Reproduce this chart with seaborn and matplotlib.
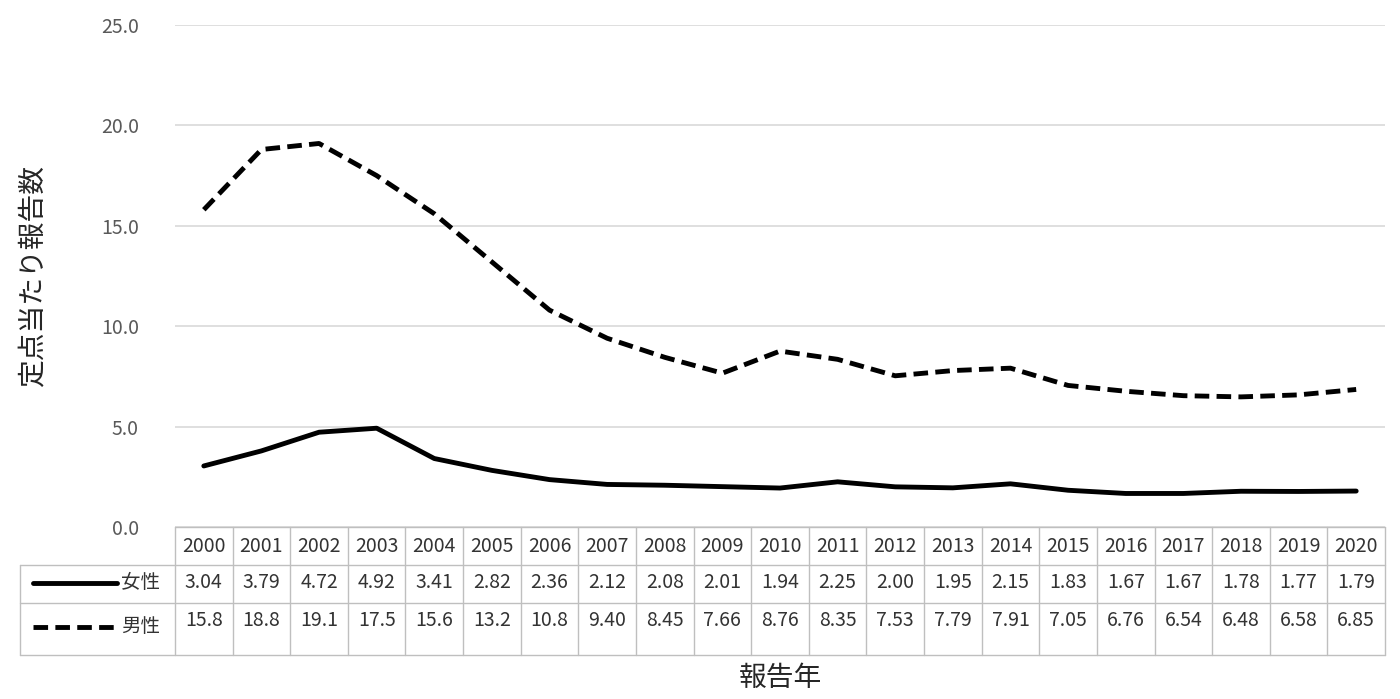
import matplotlib
matplotlib.use("Agg")
import matplotlib.pyplot as plt
from matplotlib.lines import Line2D
import seaborn as sns
import pandas as pd

years = list(range(2000, 2021))
female = [3.04, 3.79, 4.72, 4.92, 3.41, 2.82, 2.36, 2.12, 2.08, 2.01, 1.94,
          2.25, 2.00, 1.95, 2.15, 1.83, 1.67, 1.67, 1.78, 1.77, 1.79]
male = [15.8, 18.8, 19.1, 17.5, 15.6, 13.2, 10.8, 9.40, 8.45, 7.66, 8.76,
        8.35, 7.53, 7.79, 7.91, 7.05, 6.76, 6.54, 6.48, 6.58, 6.85]
female_txt = ["3.04", "3.79", "4.72", "4.92", "3.41", "2.82", "2.36", "2.12", "2.08", "2.01", "1.94",
              "2.25", "2.00", "1.95", "2.15", "1.83", "1.67", "1.67", "1.78", "1.77", "1.79"]
male_txt = ["15.8", "18.8", "19.1", "17.5", "15.6", "13.2", "10.8", "9.40", "8.45", "7.66", "8.76",
            "8.35", "7.53", "7.79", "7.91", "7.05", "6.76", "6.54", "6.48", "6.58", "6.85"]

sns.set_style("white")
plt.rcParams['font.family'] = ['Noto Sans CJK JP', 'DejaVu Sans']

W, H = 1400, 699
fig = plt.figure(figsize=(14, 6.99), dpi=100)
L, R, T, B = 175, 1385, 25, 527
ax = fig.add_axes([L / W, (H - B) / H, (R - L) / W, (B - T) / H])

df = pd.DataFrame({"x": range(len(years)), "女性": female, "男性": male})
sns.lineplot(data=df, x="x", y="女性", ax=ax, color="black", lw=3.5)
sns.lineplot(data=df, x="x", y="男性", ax=ax, color="black", lw=3.5, linestyle=(0, (3, 1.5)))

ax.set_xlim(-0.5, len(years) - 0.5)
ax.set_ylim(0, 25)
ax.set_yticks([0, 5, 10, 15, 20, 25])
ax.set_yticklabels([f"{v:.1f}" for v in [0, 5, 10, 15, 20, 25]], fontsize=14, color="#595959")
ax.tick_params(axis='y', length=0, pad=26)
ax.set_xticks([])
ax.set_xlabel("")
ax.set_ylabel("定点当たり報告数", fontsize=20)
ax.yaxis.set_label_coords(-0.105, 0.5)
ax.grid(axis='y', color="#d9d9d9", lw=1.2)
for s in ax.spines.values():
    s.set_visible(False)


def fx(px):
    return px / W


def fy(py):
    return 1 - py / H


gc = "#bfbfbf"
tc = "#333333"
rows = [527, 565, 603, 655]
colw = (R - L) / len(years)
fig.add_artist(Line2D([fx(L), fx(R)], [fy(rows[0])] * 2, color=gc, lw=1))
for r in rows[1:]:
    fig.add_artist(Line2D([fx(20), fx(R)], [fy(r)] * 2, color=gc, lw=1))
for i in range(len(years) + 1):
    x = L + i * colw
    fig.add_artist(Line2D([fx(x)] * 2, [fy(rows[0]), fy(rows[3])], color=gc, lw=1))
fig.add_artist(Line2D([fx(20)] * 2, [fy(rows[1]), fy(rows[3])], color=gc, lw=1))

for i, y in enumerate(years):
    cx = fx(L + (i + 0.5) * colw)
    fig.text(cx, fy(547), str(y), ha='center', va='center', fontsize=14, color=tc)
    fig.text(cx, fy(583), female_txt[i], ha='center', va='center', fontsize=14, color=tc)
    fig.text(cx, fy(621), male_txt[i], ha='center', va='center', fontsize=14, color=tc)

fig.add_artist(Line2D([fx(33), fx(117)], [fy(583)] * 2, color="black", lw=3.5))
fig.add_artist(Line2D([fx(33), fx(117)], [fy(627)] * 2, color="black", lw=3.5, linestyle=(0, (3, 1.5))))
fig.text(fx(121), fy(583), "女性", ha='left', va='center', fontsize=14, color=tc)
fig.text(fx(121), fy(627), "男性", ha='left', va='center', fontsize=14, color=tc)

fig.text(fx(780), fy(678), "報告年", ha='center', va='center', fontsize=20)

fig.savefig("out.png", dpi=100)
